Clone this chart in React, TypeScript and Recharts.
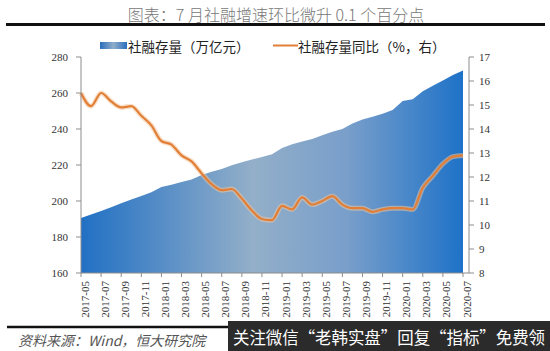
import { FC } from 'react';
import { ComposedChart, Area, Line, XAxis, YAxis } from 'recharts';

const months = [
  '2017-05', '2017-06', '2017-07', '2017-08', '2017-09', '2017-10', '2017-11', '2017-12',
  '2018-01', '2018-02', '2018-03', '2018-04', '2018-05', '2018-06', '2018-07', '2018-08',
  '2018-09', '2018-10', '2018-11', '2018-12', '2019-01', '2019-02', '2019-03', '2019-04',
  '2019-05', '2019-06', '2019-07', '2019-08', '2019-09', '2019-10', '2019-11', '2019-12',
  '2020-01', '2020-02', '2020-03', '2020-04', '2020-05', '2020-06', '2020-07'
];

// 社融存量（万亿元）
const stock = [
  190.5, 192.5, 194.5, 196.5, 198.8, 200.8, 202.8, 204.8,
  207.8, 209, 210.5, 212, 214.5, 216.3, 217.8, 219.8,
  221.5, 223, 224.5, 226, 229.5, 231.5, 233, 234.5,
  236.5, 238.5, 240, 243, 245.3, 246.8, 248.5, 250.5,
  255.5, 256.5, 261, 264, 267, 270, 272.5
];

// 社融存量同比（%，右）
const yoy = [
  15.5, 14.95, 15.5, 15.15, 14.9, 14.95, 14.55, 14.15,
  13.5, 13.35, 12.9, 12.65, 12.15, 11.7, 11.45, 11.5,
  11.1, 10.6, 10.25, 10.2, 10.8, 10.65, 11.15, 10.85,
  11.0, 11.2, 10.85, 10.7, 10.7, 10.55, 10.65, 10.7,
  10.7, 10.65, 11.55, 12.05, 12.55, 12.85, 12.9
];

const leftTicks = [160, 180, 200, 220, 240, 260, 280];
const rightTicks = [8, 9, 10, 11, 12, 13, 14, 15, 16, 17];

const data = months.map((m, i) => ({ month: m, stock: stock[i], yoy: yoy[i] }));

const serif = '"Liberation Serif", "Times New Roman", serif';
const cjk = '"Noto Sans CJK SC", sans-serif';
const axisColor = '#8c8c8c';

const MonthTick: FC<any> = ({ x, y, payload }) => (
  <text
    x={x + 3.5}
    y={y + 2}
    transform={`rotate(-90, ${x + 3.5}, ${y + 2})`}
    textAnchor="end"
    dominantBaseline="central"
    style={{ fontFamily: serif }}
    fontSize={11}
    fill="#333"
  >
    {payload.value}
  </text>
);

const App: FC = () => {
  return (
    <div style={{ position: 'absolute', left: 0, top: 0, width: 550, height: 351, background: '#fff' }}>
      <ComposedChart
        width={550}
        height={351}
        data={data}
        margin={{ top: 57, right: 51, bottom: 0, left: 51 }}
      >
        <defs>
          <linearGradient id="stockFill" x1="0" y1="0" x2="1" y2="0">
            <stop offset="0" stopColor="#2170c4" />
            <stop offset="0.45" stopColor="#93afc9" />
            <stop offset="0.7" stopColor="#789eca" />
            <stop offset="1" stopColor="#1e72c8" />
          </linearGradient>
        </defs>
        <XAxis
          dataKey="month"
          interval={1}
          height={78}
          padding={{ left: 0, right: 6 }}
          stroke={axisColor}
          tickLine={{ stroke: axisColor }}
          tickSize={4}
          tick={<MonthTick />}
        />
        <YAxis
          yAxisId="left"
          width={30}
          domain={[160, 280]}
          ticks={leftTicks}
          stroke={axisColor}
          tickSize={5}
          tickMargin={8}
          tick={{ fontFamily: serif, fontSize: 11, fill: '#333' }}
        />
        <YAxis
          yAxisId="right"
          orientation="right"
          width={30}
          domain={[8, 17]}
          ticks={rightTicks}
          stroke={axisColor}
          tickSize={5}
          tickMargin={5}
          tick={{ fontFamily: serif, fontSize: 11, fill: '#333', textAnchor: 'start' }}
        />
        <Area
          yAxisId="left"
          dataKey="stock"
          type="linear"
          stroke="none"
          fill="url(#stockFill)"
          fillOpacity={1}
          isAnimationActive={false}
        />
        <Line
          yAxisId="right"
          dataKey="yoy"
          type="monotone"
          stroke="#f3c79f"
          strokeOpacity={0.55}
          strokeWidth={5}
          dot={false}
          activeDot={false}
          isAnimationActive={false}
        />
        <Line
          yAxisId="right"
          dataKey="yoy"
          type="monotone"
          stroke="#e27f36"
          strokeWidth={2.2}
          dot={false}
          activeDot={false}
          isAnimationActive={false}
        />
      </ComposedChart>
      <svg
        width={550}
        height={351}
        style={{ position: 'absolute', left: 0, top: 0, pointerEvents: 'none' }}
      >
        <defs>
          <linearGradient id="legendFill" x1="0" y1="0" x2="1" y2="0">
            <stop offset="0" stopColor="#2a6fbe" />
            <stop offset="0.5" stopColor="#8fadc9" />
            <stop offset="1" stopColor="#2a6fbe" />
          </linearGradient>
        </defs>
        <text x={276} y={14} textAnchor="middle" dominantBaseline="central" fontFamily={cjk} fontWeight={300} fontSize={16} fill="#777">
          图表：7 月社融增速环比微升 0.1 个百分点
        </text>
        <line x1={6} x2={545} y1={24.5} y2={24.5} stroke="#111" strokeWidth={3} />
        <rect x={100} y={42} width={27} height={7} fill="url(#legendFill)" />
        <text x={128} y={45.5} dominantBaseline="central" fontFamily={cjk} fontSize={13.5} fill="#222">
          社融存量（万亿元）
        </text>
        <line x1={273} x2={298} y1={45.5} y2={45.5} stroke="#e27f36" strokeWidth={2} />
        <text x={298} y={45.5} dominantBaseline="central" fontFamily={cjk} fontSize={13.5} fill="#222">
          社融存量同比（%，右）
        </text>
        <line x1={7} x2={545} y1={327} y2={327} stroke="#111" strokeWidth={2.5} />
        <text x={18} y={340} dominantBaseline="central" fontFamily={cjk} fontStyle="italic" fontSize={14} fill="#555">
          资料来源：Wind，恒大研究院
        </text>
        <rect x={228} y={321} width={322} height={30} fill="#2b2b2b" />
        <text
          x={233}
          y={337}
          dominantBaseline="central"
          fontFamily={cjk}
          fontSize={16.5}
          fill="#fff"
          textLength={312}
          lengthAdjust="spacingAndGlyphs"
        >
          关注微信“老韩实盘”回复“指标”免费领
        </text>
      </svg>
    </div>
  );
};

export default App;
